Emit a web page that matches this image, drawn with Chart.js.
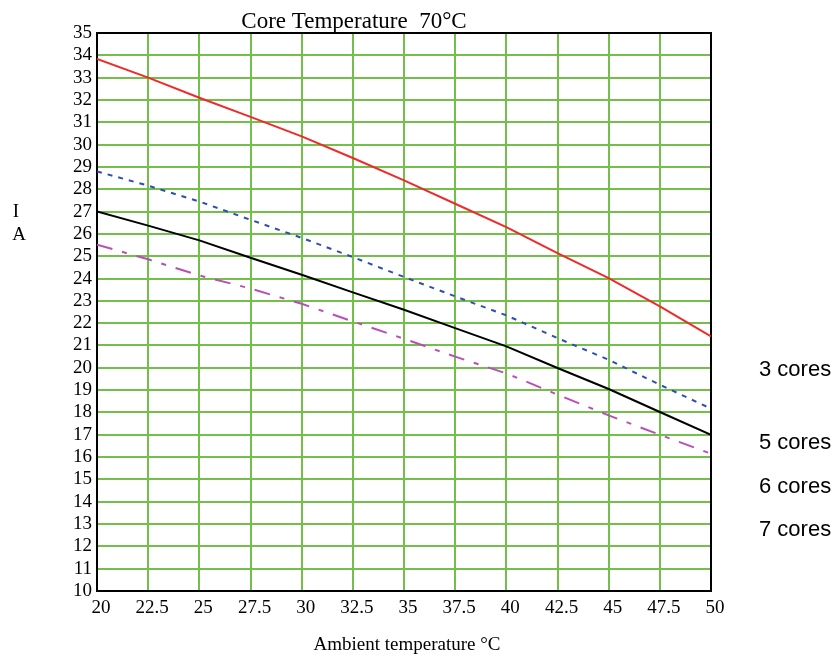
<!DOCTYPE html>
<html>
<head>
<meta charset="utf-8">
<script src="https://cdn.jsdelivr.net/npm/chart.js@4.4.1/dist/chart.umd.min.js"></script>
<style>
  html, body { margin: 0; padding: 0; background: #fff; }
  canvas { display: block; }
</style>
</head>
<body>
<canvas id="chart" width="840" height="659"></canvas>
<script>
// ── Data ─────────────────────────────────────────────────────
const ambientTemps = [20, 22.5, 25, 27.5, 30, 32.5, 35, 37.5, 40, 42.5, 45, 47.5, 50];
const cores3 = [33.84, 33.0, 32.1, 31.24, 30.37, 29.4, 28.4, 27.35, 26.3, 25.14, 24.02, 22.75, 21.41];
const cores5 = [28.8, 28.16, 27.45, 26.63, 25.82, 24.96, 24.07, 23.2, 22.35, 21.33, 20.36, 19.24, 18.17];
const cores6 = [27.0, 26.37, 25.71, 24.93, 24.17, 23.38, 22.6, 21.78, 20.96, 19.99, 19.05, 18.02, 17.0];
const cores7 = [25.52, 24.86, 24.14, 23.55, 22.87, 22.08, 21.3, 20.5, 19.75, 18.8, 17.87, 17.0, 16.15];
const seriesNames = ["3 cores", "5 cores", "6 cores", "7 cores"];
const chartTitle = "Core Temperature  70°C";
const xTitle = "Ambient temperature °C";
const yTitle = ["I", "A"];

const serif = '"Liberation Serif", "Times New Roman", serif';
const sans = '"Liberation Sans", Arial, sans-serif';
const gridGreen = "#72c04a";

function toPoints(values) {
    return values.map((v, i) => ({ x: ambientTemps[i], y: v }));
}

// ── Frame + text ─────────────────────────────────────────────
const framePlugin = {
    id: "frame",
    beforeDatasetsDraw(chart) {
        const { ctx, chartArea: a } = chart;
        ctx.save();
        ctx.strokeStyle = "#000";
        ctx.lineWidth = 2;
        ctx.strokeRect(a.left, a.top, a.right - a.left, a.bottom - a.top);
        ctx.restore();
    },
    afterDraw(chart) {
        const ctx = chart.ctx;
        ctx.save();
        ctx.fillStyle = "#000";

        // title
        ctx.font = "23px " + serif;
        ctx.textAlign = "center";
        ctx.textBaseline = "alphabetic";
        ctx.fillText(chartTitle, 354, 28);

        // y title "I / A"
        ctx.font = "19px " + serif;
        ctx.textBaseline = "middle";
        ctx.fillText(yTitle[0], 16, 212);
        ctx.fillText(yTitle[1], 19, 235);

        // x title
        ctx.fillText(xTitle, 407, 645);

        // labels at right
        ctx.font = "22px " + sans;
        ctx.textAlign = "left";
        const labelY = [370, 443, 487, 530];
        seriesNames.forEach((name, i) => ctx.fillText(name, 759, labelY[i]));
        ctx.restore();
    }
};

// ── Chart ────────────────────────────────────────────────────
new Chart(document.getElementById("chart"), {
    type: "line",
    data: {
        datasets: [
            { label: seriesNames[0], data: toPoints(cores3), borderColor: "#f02a2a", borderWidth: 2 },
            { label: seriesNames[1], data: toPoints(cores5), borderColor: "#2d4fae", borderWidth: 2, borderDash: [5, 6] },
            { label: seriesNames[2], data: toPoints(cores6), borderColor: "#000000", borderWidth: 2 },
            { label: seriesNames[3], data: toPoints(cores7), borderColor: "#b84fb8", borderWidth: 2, borderDash: [16, 10, 5, 10] }
        ]
    },
    options: {
        responsive: false,
        animation: false,
        devicePixelRatio: 1,
        layout: { padding: { top: 33, right: 129, left: 0, bottom: 0 } },
        elements: { point: { radius: 0 }, line: { tension: 0, fill: false } },
        plugins: {
            legend: { display: false },
            title: { display: false },
            tooltip: { enabled: false }
        },
        scales: {
            x: {
                type: "linear",
                min: 20,
                max: 50,
                afterFit(scale) { scale.height = 68; },
                border: { display: false },
                grid: { color: gridGreen, lineWidth: 2, drawTicks: false },
                ticks: {
                    stepSize: 2.5,
                    padding: 6,
                    labelOffset: 4,
                    color: "#000",
                    maxRotation: 0,
                    autoSkip: false,
                    font: { family: serif, size: 19 }
                }
            },
            y: {
                min: 10,
                max: 35,
                afterFit(scale) { scale.width = 97; },
                border: { display: false },
                grid: { color: gridGreen, lineWidth: 2, drawTicks: false },
                ticks: {
                    stepSize: 1,
                    padding: 5,
                    color: "#000",
                    autoSkip: false,
                    font: { family: serif, size: 19 }
                }
            }
        }
    },
    plugins: [framePlugin]
});
</script>
</body>
</html>
